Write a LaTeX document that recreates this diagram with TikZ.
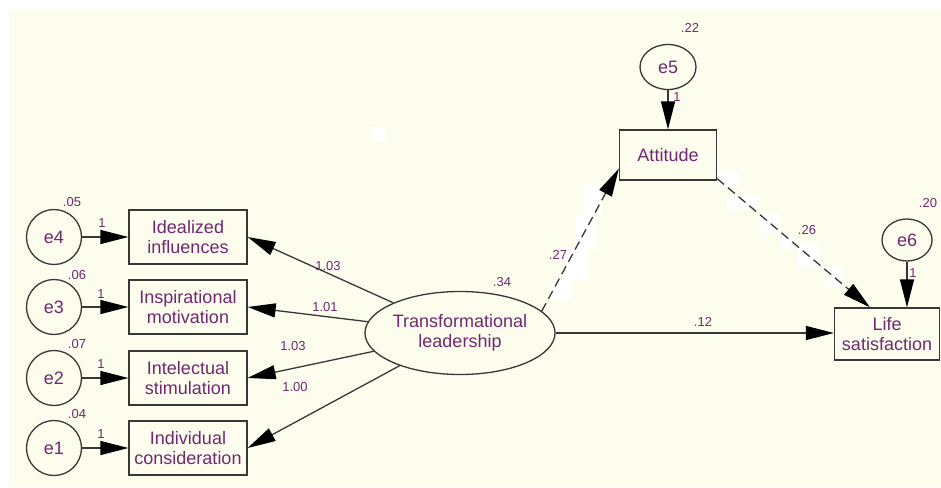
\documentclass[tikz,border=0pt]{standalone}
\usepackage{fontspec}
\setmainfont{Liberation Sans}
\usetikzlibrary{positioning,shapes,arrows.meta}

\definecolor{bgcream}{RGB}{253,253,238}
\definecolor{txtpurple}{RGB}{112,40,112}
\definecolor{linegray}{RGB}{55,55,55}

\tikzset{
  obsbox/.style={rectangle,draw=linegray,line width=1.3pt,minimum width=118pt,minimum height=54pt,
    inner sep=0pt,align=center,text=txtpurple,font=\fontsize{18}{20}\selectfont},
  errnode/.style={circle,draw=linegray,line width=1.3pt,minimum size=55pt,inner sep=0pt,
    text=txtpurple,font=\fontsize{18}{20}\selectfont},
  errell/.style={ellipse,draw=linegray,line width=1.3pt,inner sep=0pt,
    text=txtpurple,font=\fontsize{18}{20}\selectfont},
  coef/.style={text=txtpurple,font=\fontsize{13}{15}\selectfont,inner sep=1pt},
  regpath/.style={draw=linegray,line width=1.3pt,-{Triangle[length=28pt,width=14pt,fill=black,color=black]}},
}

\begin{document}
\begin{tikzpicture}[x=1pt,y=-1pt]
\useasboundingbox (0,0) rectangle (941,487);
\fill[bgcream] (9,10) rectangle (941,487);
% white patches
\fill[white] (371,127) rectangle (386,142);
\fill[white] (718,172) rectangle (740,187);
\fill[white] (727,195) rectangle (758,210);
\fill[white] (760,213) rectangle (780,233);
\fill[white] (780,233) rectangle (793,250);
\fill[white] (798,243) rectangle (820,267);
\fill[white] (825,267) rectangle (843,287);
\fill[white] (584,185) rectangle (602,215);
\fill[white] (576,215) rectangle (598,250);
\fill[white] (566,250) rectangle (588,280);
\fill[white] (552,280) rectangle (572,300);

% indicators
\node[obsbox] (ideal) at (188,237) {Idealized\\influences};
\node[obsbox] (insp)  at (188,307) {Inspirational\\motivation};
\node[obsbox] (intel) at (188,378) {Intelectual\\stimulation};
\node[obsbox] (indiv) at (188,448) {Individual\\consideration};

\node[errnode] (e4) at (54,237) {e4};
\node[errnode] (e3) at (54,307) {e3};
\node[errnode] (e2) at (54,378) {e2};
\node[errnode] (e1) at (54,448) {e1};

\node[ellipse,draw=linegray,line width=1.3pt,minimum width=170pt,minimum height=83pt,inner sep=0pt,
  align=center,text=txtpurple,font=\fontsize{18}{20}\selectfont] (tl) at (460,333)
  {Transformational\\leadership};

\node[obsbox,minimum width=97pt,minimum height=50pt] (att) at (668,155) {Attitude};
\node[obsbox,minimum width=105pt,minimum height=52pt] (life) at (887,334) {Life\\satisfaction};

\node[errell,minimum width=56pt,minimum height=45pt] (e5) at (668,67) {e5};
\node[errell,minimum width=50pt,minimum height=42pt] (e6) at (907,240) {e6};

% paths
\draw[regpath] (e4) -- (ideal);
\draw[regpath] (e3) -- (insp);
\draw[regpath] (e2) -- (intel);
\draw[regpath] (e1) -- (indiv);
\draw[regpath] (tl) -- (ideal.east);
\draw[regpath] (tl) -- (insp.east);
\draw[regpath] (tl) -- (intel.east);
\draw[regpath] (tl) -- (indiv.east);
\draw[regpath] (e5) -- (att);
\draw[regpath] (e6) -- (e6 |- life.north);
\draw[regpath] (tl.east) -- (life.west |- tl.east);
\draw[regpath,dash pattern=on 9pt off 5pt] (tl.15) -- ([yshift=12pt]att.south west);
\draw[regpath,dash pattern=on 9pt off 5pt] ([yshift=2pt]att.south east) -- ([xshift=-17pt]life.north);

% estimates
\node[coef] at (72,202) {.05};
\node[coef] at (77,275) {.06};
\node[coef] at (77,344) {.07};
\node[coef] at (77,414) {.04};
\node[coef] at (102,223) {1};
\node[coef] at (101,294) {1};
\node[coef] at (101,364) {1};
\node[coef] at (101,434) {1};
\node[coef] at (328,266) {1.03};
\node[coef] at (325,307) {1.01};
\node[coef] at (293,346) {1.03};
\node[coef] at (295,387) {1.00};
\node[coef] at (502,282) {.34};
\node[coef] at (558,255) {.27};
\node[coef] at (807,230) {.26};
\node[coef] at (703,322) {.12};
\node[coef] at (690,28) {.22};
\node[coef] at (677,97) {1};
\node[coef] at (928,203) {.20};
\node[coef] at (913,273) {1};
\end{tikzpicture}
\end{document}
